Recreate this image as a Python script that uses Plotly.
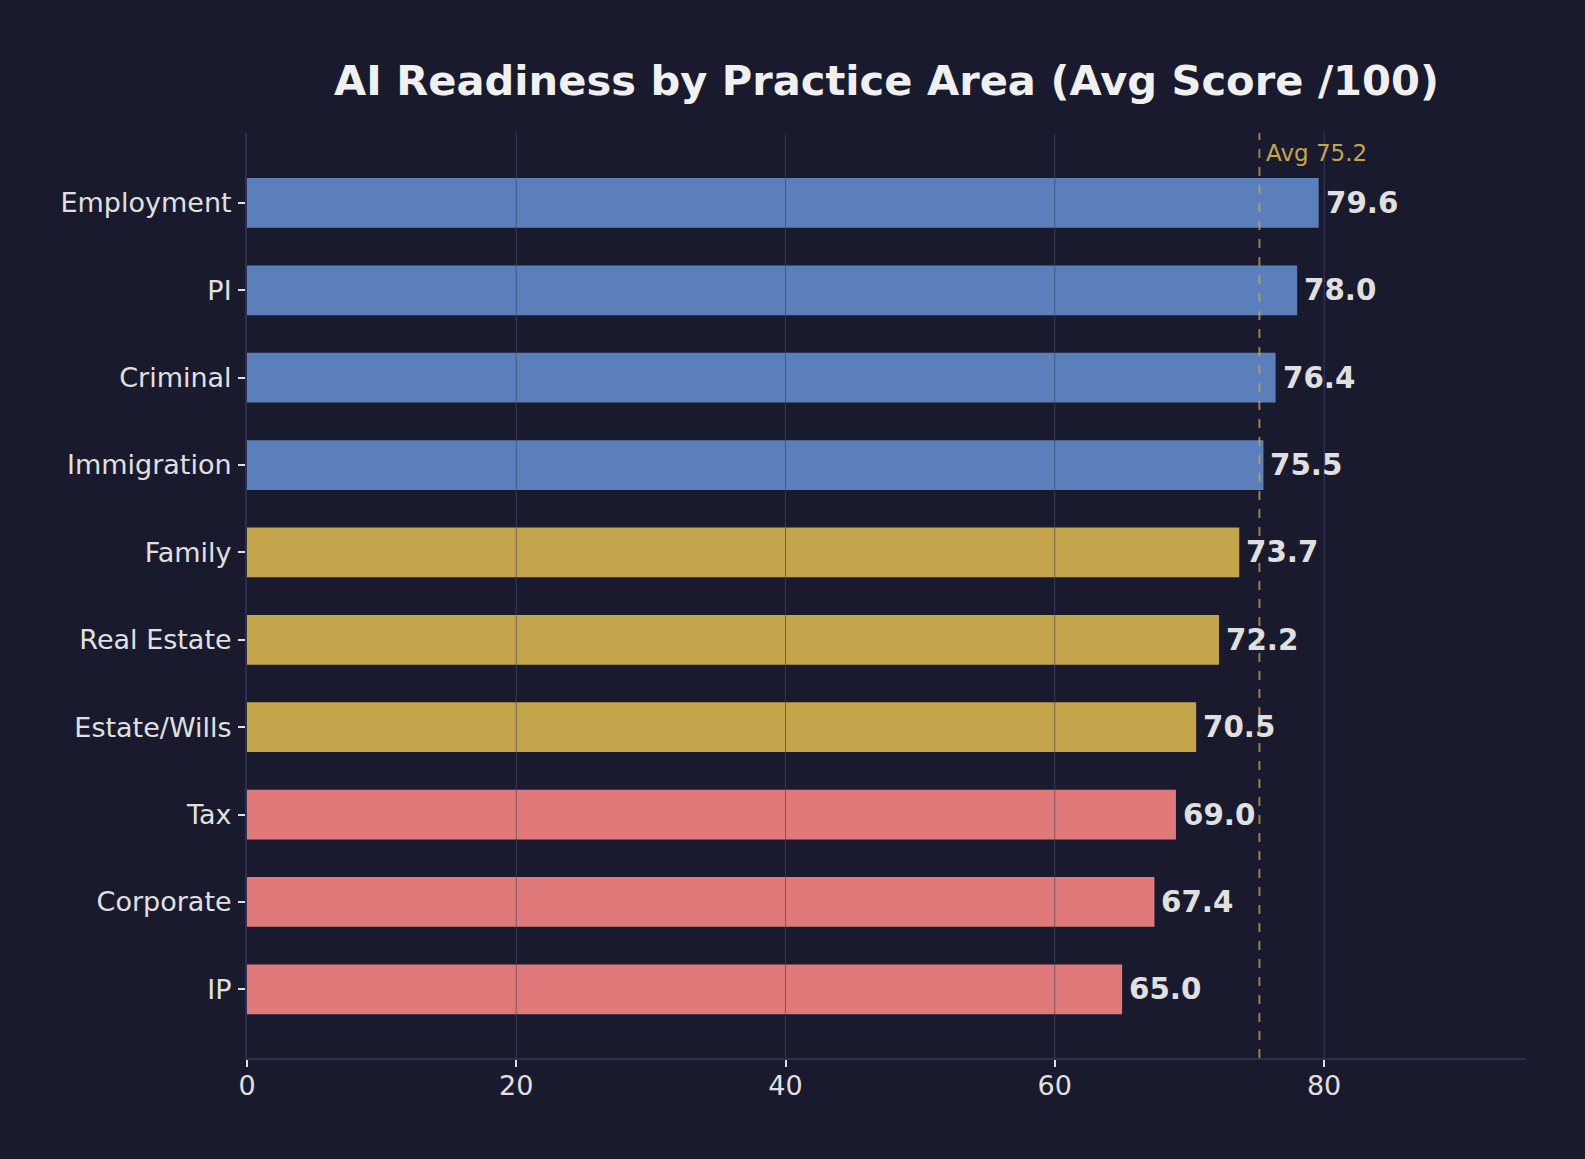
import plotly.graph_objects as go

practice_areas = ["IP", "Corporate", "Tax", "Estate/Wills", "Real Estate",
                  "Family", "Immigration", "Criminal", "PI", "Employment"]
scores = [65.0, 67.4, 69.0, 70.5, 72.2, 73.7, 75.5, 76.4, 78.0, 79.6]
tiers = ["low", "low", "low", "mid", "mid", "mid", "high", "high", "high", "high"]
avg_score = 75.2
x_ticks = [0, 20, 40, 60, 80]

tier_colors = {"high": "#5B7FBA", "mid": "#C4A54C", "low": "#E07A7A"}
bg = "#1A1A2E"
text_col = "#E0E0E0"
grid_col = "rgba(60,60,95,0.6)"

fig = go.Figure()
fig.add_trace(go.Bar(
    x=scores, y=practice_areas, orientation="h",
    marker=dict(color=[tier_colors[t] for t in tiers], line=dict(width=0)),
    width=0.57, showlegend=False,
))

# grid drawn on top of the bars, like the original
for t in x_ticks[1:]:
    fig.add_shape(type="line", x0=t, x1=t, y0=0, y1=1, yref="paper",
                  line=dict(color=grid_col, width=1), layer="above")

# value labels at bar ends
for name, v in zip(practice_areas, scores):
    fig.add_annotation(x=v, y=name, text="<b>%.1f</b>" % v, showarrow=False,
                       xanchor="left", xshift=5,
                       font=dict(size=29.3, color=text_col, family="DejaVu Sans"))

# average line
fig.add_shape(type="line", x0=avg_score, x1=avg_score, y0=0, y1=1, yref="paper",
              line=dict(color="rgba(196,165,76,0.75)", width=2, dash="dash"), layer="above")
fig.add_annotation(x=avg_score, y=1, yref="paper", text="Avg %.1f" % avg_score,
                   showarrow=False, xanchor="left", yanchor="top", xshift=5, yshift=-5,
                   font=dict(size=23, color="#C4A54C", family="DejaVu Sans"))

fig.update_layout(
    width=1585, height=1159,
    paper_bgcolor=bg, plot_bgcolor=bg,
    margin=dict(l=247, r=59, t=133, b=101),
    font=dict(family="DejaVu Sans", color=text_col, size=27),
    title=dict(text="<b>AI Readiness by Practice Area (Avg Score /100)</b>",
               x=(247 + 1526) / 2 / 1585, xanchor="center", y=1 - 80 / 1159, yanchor="middle",
               font=dict(size=41.6, color="#F0F0F0", family="DejaVu Sans")),
)
fig.update_xaxes(range=[0, 95], tickvals=x_ticks,
                 showgrid=True, gridcolor=grid_col, gridwidth=1,
                 zeroline=False, showline=True, linecolor="#2E2E50", linewidth=2,
                 ticks="outside", ticklen=7, tickcolor=text_col, tickwidth=1.5,
                 tickfont=dict(size=27, color=text_col), ticklabelstandoff=-4)
fig.update_yaxes(range=[-0.786, 9.8], showgrid=False, zeroline=False,
                 showline=True, linecolor="#2E2E50", linewidth=2,
                 ticks="outside", ticklen=7, tickcolor=text_col, tickwidth=1.5,
                 tickfont=dict(size=27, color=text_col), ticklabelstandoff=1)

fig.write_html("out.html", config={"displayModeBar": False},
               post_script="document.body.style.margin='0';"
                           "document.body.style.background='#1A1A2E';")
